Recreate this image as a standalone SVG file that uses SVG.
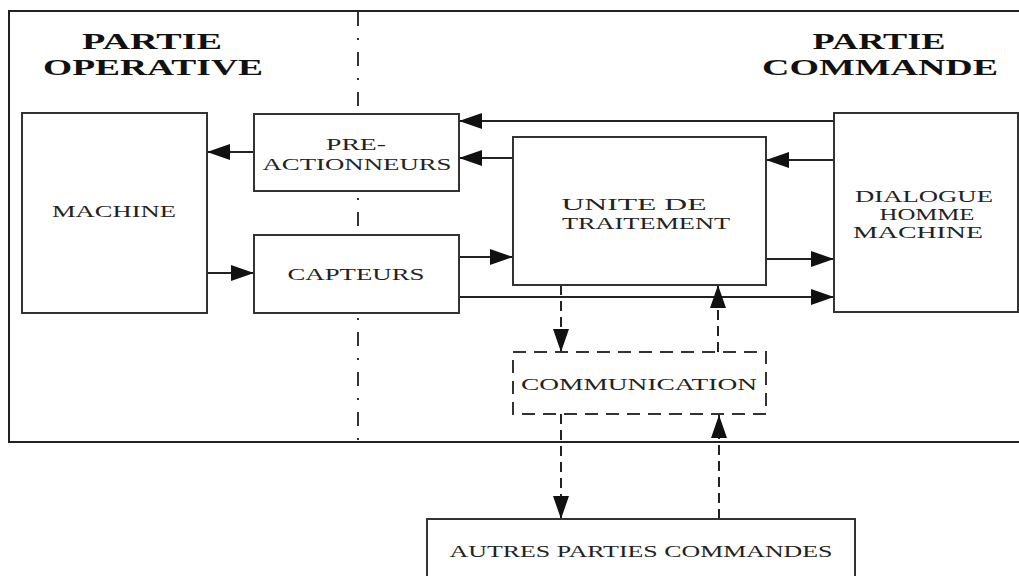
<svg xmlns="http://www.w3.org/2000/svg" width="1019" height="576" viewBox="0 0 1019 576">
<style>
.box{fill:#fff;stroke:#333;stroke-width:2}
.dbox{fill:#fff;stroke:#333;stroke-width:2;stroke-dasharray:13 8}
.t{font-family:"Liberation Serif",serif;font-size:17px;fill:#222;text-anchor:middle}
.h{font-family:"Liberation Serif",serif;font-size:24px;font-weight:bold;fill:#111;text-anchor:middle}
.c{fill:none;stroke:#222;stroke-width:2}
.d{fill:none;stroke:#222;stroke-width:2;stroke-dasharray:10 6}
</style>
<defs>
<marker id="ah" markerUnits="userSpaceOnUse" markerWidth="24" markerHeight="16" refX="23" refY="8" orient="auto">
<path d="M0,0 L23,8 L0,16 Z" fill="#111"/>
</marker>
</defs>
<rect width="1019" height="576" fill="#fff"/>
<g id="frame">
<path d="M1019,11 H9 V442 H1019" fill="none" stroke="#222" stroke-width="2"/>
<line x1="358" y1="12" x2="358" y2="440" stroke="#333" stroke-width="2" stroke-dasharray="14 12 2 12"/>
<text class="h" x="152" y="49" textLength="140" lengthAdjust="spacingAndGlyphs">PARTIE</text>
<text class="h" x="153" y="75" textLength="220" lengthAdjust="spacingAndGlyphs">OPERATIVE</text>
<text class="h" x="879" y="49" textLength="133" lengthAdjust="spacingAndGlyphs">PARTIE</text>
<text class="h" x="880" y="75" textLength="236" lengthAdjust="spacingAndGlyphs">COMMANDE</text>
</g>
<g id="connectors">
<line class="c" x1="834" y1="121" x2="459" y2="121" marker-end="url(#ah)"/>
<line class="c" x1="513" y1="158" x2="459" y2="158" marker-end="url(#ah)"/>
<line class="c" x1="834" y1="160" x2="766" y2="160" marker-end="url(#ah)"/>
<line class="c" x1="254" y1="152" x2="207" y2="152" marker-end="url(#ah)"/>
<line class="c" x1="207" y1="273" x2="254" y2="273" marker-end="url(#ah)"/>
<line class="c" x1="459" y1="257" x2="513" y2="257" marker-end="url(#ah)"/>
<line class="c" x1="459" y1="297" x2="834" y2="297" marker-end="url(#ah)"/>
<line class="c" x1="766" y1="259" x2="834" y2="259" marker-end="url(#ah)"/>
<line class="d" x1="561" y1="285" x2="561" y2="352" marker-end="url(#ah)"/>
<line class="d" x1="718" y1="352" x2="718" y2="285" marker-end="url(#ah)"/>
<line class="d" x1="561" y1="414" x2="561" y2="519" marker-end="url(#ah)"/>
<line class="d" x1="719" y1="519" x2="719" y2="415" marker-end="url(#ah)"/>
</g>
<g id="machine">
<rect class="box" x="22" y="113" width="185" height="200"/>
<text class="t" x="114" y="217" textLength="124" lengthAdjust="spacingAndGlyphs">MACHINE</text>
</g>
<g id="preactionneurs">
<rect class="box" x="254" y="114" width="205" height="77"/>
<text class="t" x="356" y="150" textLength="60" lengthAdjust="spacingAndGlyphs">PRE-</text>
<text class="t" x="357" y="170" textLength="189" lengthAdjust="spacingAndGlyphs">ACTIONNEURS</text>
</g>
<g id="capteurs">
<rect class="box" x="254" y="235" width="205" height="78"/>
<text class="t" x="356" y="280" textLength="137" lengthAdjust="spacingAndGlyphs">CAPTEURS</text>
</g>
<g id="unite">
<rect class="box" x="513" y="137" width="253" height="148"/>
<text class="t" x="634" y="210" textLength="145" lengthAdjust="spacingAndGlyphs">UNITE DE</text>
<text class="t" x="646" y="229" textLength="168" lengthAdjust="spacingAndGlyphs">TRAITEMENT</text>
</g>
<g id="dialogue">
<rect class="box" x="834" y="113" width="184" height="199"/>
<text class="t" x="924" y="202" textLength="138" lengthAdjust="spacingAndGlyphs">DIALOGUE</text>
<text class="t" x="927" y="220" textLength="95" lengthAdjust="spacingAndGlyphs">HOMME</text>
<text class="t" x="918" y="238" textLength="130" lengthAdjust="spacingAndGlyphs">MACHINE</text>
</g>
<g id="communication">
<rect class="dbox" x="513" y="352" width="253" height="62"/>
<text class="t" x="639" y="390" textLength="236" lengthAdjust="spacingAndGlyphs">COMMUNICATION</text>
</g>
<g id="autres">
<rect class="box" x="427" y="519" width="428" height="70"/>
<text class="t" x="641" y="557" font-size="21" textLength="383" lengthAdjust="spacingAndGlyphs">AUTRES PARTIES COMMANDES</text>
</g>
</svg>
